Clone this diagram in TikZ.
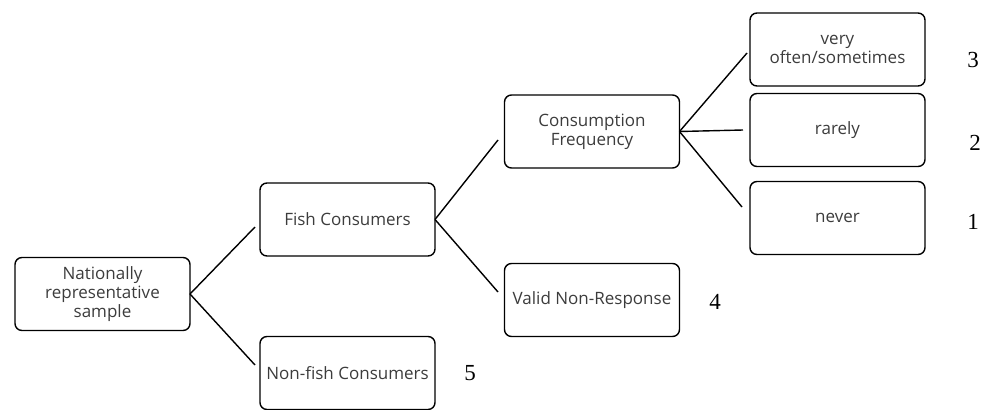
\documentclass[tikz,border=0pt]{standalone}
\usepackage{fontspec}
\setmainfont{Liberation Serif}
\newfontfamily\boxfont{Open Sans}
\usetikzlibrary{positioning}
\definecolor{boxtext}{RGB}{60,60,60}
\tikzset{
  catbox/.style={draw=black,rounded corners=7pt,line width=1.4pt,align=center,
    font=\boxfont\fontsize{17}{19}\selectfont,text=boxtext,
    minimum width=175pt,minimum height=73pt,inner sep=2pt,outer sep=0pt},
  branch/.style={draw=black,line width=1.4pt},
  code/.style={font=\fontsize{23}{25}\selectfont},
}
\begin{document}
\begin{tikzpicture}[x=1pt,y=-1pt]
  \useasboundingbox (0,0) rectangle (989,410);
  % categories
  \node[catbox] (samp) at (102.5,294) {Nationally\\representative\\sample};
  \node[catbox] (fish) at (347.5,219.5) {Fish Consumers};
  \node[catbox] (nonfish) at (347.5,373) {Non-fish Consumers};
  \node[catbox] (freq) at (592,131.5) {Consumption\\Frequency};
  \node[catbox] (valid) at (592,300) {Valid Non-Response};
  \node[catbox] (often) at (837.5,49.5) {very\\often/sometimes};
  \node[catbox] (rarely) at (837.5,130) {rarely};
  \node[catbox] (never) at (837.5,218) {never};
  % free ends of the branches
  \coordinate (tofish) at (255,227);
  \coordinate (tononfish) at (255,365);
  \coordinate (tofreq) at (498,140);
  \coordinate (tovalid) at (498,292);
  \coordinate (tooften) at (747,53);
  \coordinate (torarely) at (743,130);
  \coordinate (tonever) at (742,207);
  \draw[branch] (samp.east) -- (tofish);
  \draw[branch] (samp.east) -- (tononfish);
  \draw[branch] (fish.east) -- (tofreq);
  \draw[branch] (fish.east) -- (tovalid);
  \foreach \t in {tooften,torarely,tonever}{\draw[branch] (freq.east) -- (\t);}
  % codes
  \node[code] (c3) at (973,60) {3};
  \node[code] (c2) at (975,143) {2};
  \node[code] (c1) at (973,222) {1};
  \node[code] (c4) at (715,302) {4};
  \node[code] (c5) at (470,373) {5};
\end{tikzpicture}
\end{document}
